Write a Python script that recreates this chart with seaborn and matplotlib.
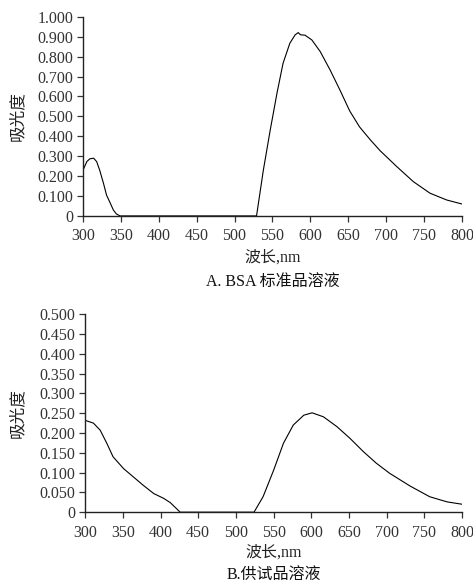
import seaborn as sns
import pandas as pd
import matplotlib.pyplot as plt

# BSA standard solution (panel A)
wl_a = [300, 305, 309, 314, 318, 322, 327, 331, 336, 340, 344, 349,
        529, 538, 547, 556, 564, 573, 580, 584, 587, 593, 602, 613, 626, 639,
        652, 665, 679, 692, 714, 736, 758, 780, 800]
abs_a = [0.23, 0.273, 0.287, 0.29, 0.273, 0.23, 0.164, 0.105, 0.064, 0.03, 0.01, 0.0,
         0.0, 0.23, 0.43, 0.617, 0.767, 0.868, 0.91, 0.921, 0.91, 0.908, 0.884, 0.826,
         0.734, 0.633, 0.527, 0.447, 0.383, 0.328, 0.248, 0.172, 0.114, 0.08, 0.06]

# test sample solution (panel B)
wl_b = [300, 311, 320, 329, 337, 351, 364, 377, 391, 404, 413, 426,
        524, 536, 550, 563, 576, 590, 601, 616, 634, 651, 669, 686, 704, 731,
        757, 780, 800]
abs_b = [0.232, 0.225, 0.207, 0.173, 0.14, 0.11, 0.089, 0.068, 0.047, 0.035, 0.024, 0.0,
         0.0, 0.039, 0.106, 0.174, 0.22, 0.245, 0.251, 0.241, 0.216, 0.187, 0.153, 0.124,
         0.098, 0.066, 0.039, 0.026, 0.020]

xticks = [300, 350, 400, 450, 500, 550, 600, 650, 700, 750, 800]
yticks_a = [0, 0.1, 0.2, 0.3, 0.4, 0.5, 0.6, 0.7, 0.8, 0.9, 1.0]
yticks_b = [0, 0.05, 0.1, 0.15, 0.2, 0.25, 0.3, 0.35, 0.4, 0.45, 0.5]

sns.set_style("ticks")
plt.rcParams['font.family'] = ['Liberation Serif', 'Noto Sans CJK SC', 'DejaVu Sans']

fig = plt.figure(figsize=(4.73, 5.82), dpi=100)
ax1 = fig.add_axes([0.1755, 0.629, 0.801, 0.342])
ax2 = fig.add_axes([0.180, 0.120, 0.797, 0.340])

df_a = pd.DataFrame({'wl': wl_a, 'abs': abs_a})
df_b = pd.DataFrame({'wl': wl_b, 'abs': abs_b})


def style(ax, yticks, title, ylab_x, xl_y, t_y):
    ax.set_xlim(300, 800)
    ax.set_ylim(0, yticks[-1])
    ax.set_xticks(xticks)
    ax.set_yticks(yticks)
    ax.set_yticklabels(['0'] + ['%.3f' % v for v in yticks[1:]])
    ax.tick_params(labelsize=11.5, colors='#333333', length=4, width=0.9, pad=5)
    ax.tick_params(axis='y', pad=3)
    for s in ['left', 'bottom']:
        ax.spines[s].set_linewidth(1.0)
        ax.spines[s].set_color('#222222')
    sns.despine(ax=ax)
    ax.set_xlabel('波长,nm', fontsize=11.5, va='center', color='#222222')
    ax.xaxis.set_label_coords(0.5, xl_y)
    ax.set_ylabel('吸光度', fontsize=12, va='center', color='#222222')
    ax.yaxis.set_label_coords(ylab_x, 0.5)
    ax.text(0.5, t_y, title, transform=ax.transAxes, ha='center', va='center',
            fontsize=11.5, color='#111111')


sns.lineplot(data=df_a, x='wl', y='abs', ax=ax1, color='black', linewidth=0.8)
sns.lineplot(data=df_b, x='wl', y='abs', ax=ax2, color='black', linewidth=0.8)
style(ax1, yticks_a, 'A. BSA 标准品溶液', -0.171, -0.211, -0.332)
style(ax2, yticks_b, 'B.供试品溶液', -0.178, -0.207, -0.318)

plt.savefig('out.png', dpi=100)
